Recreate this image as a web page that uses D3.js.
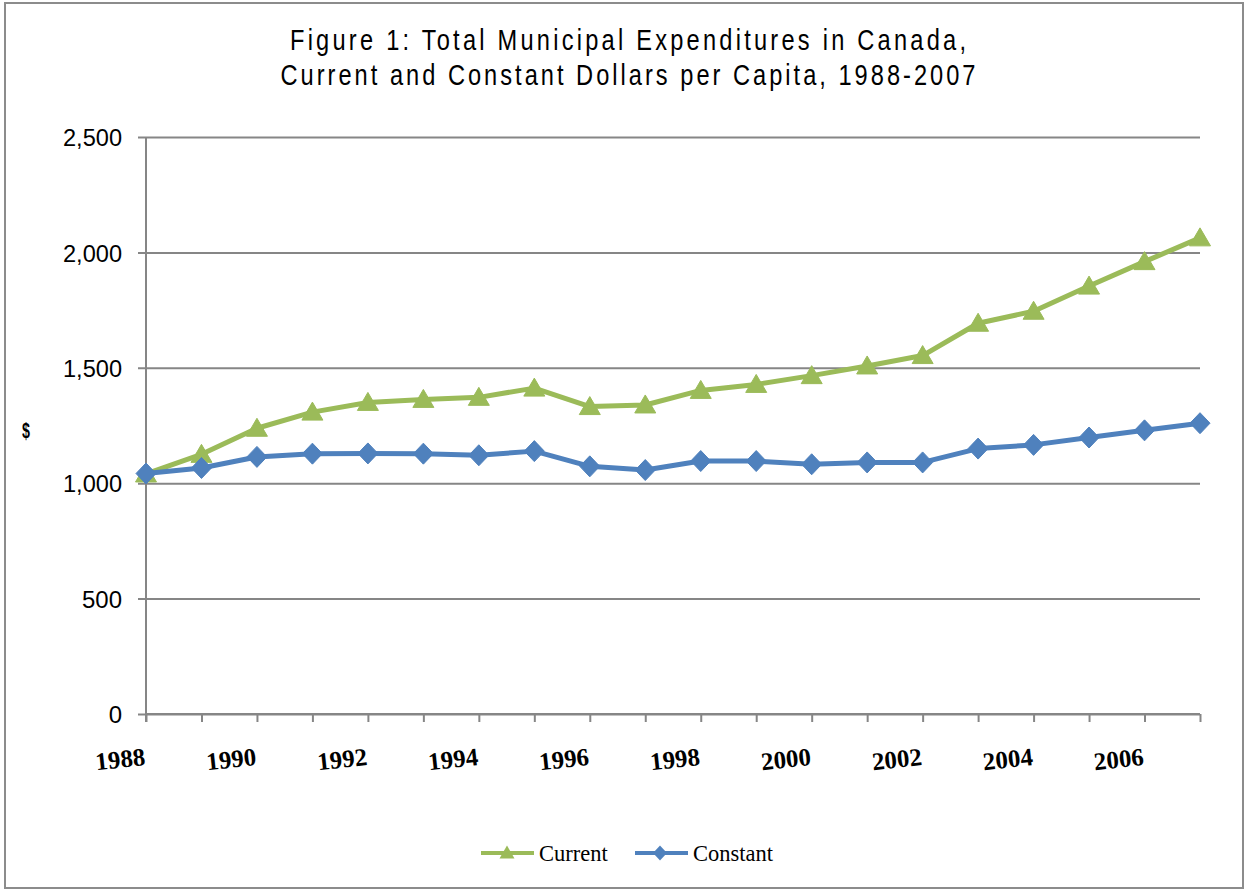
<!DOCTYPE html>
<html>
<head>
<meta charset="utf-8">
<script src="https://cdn.jsdelivr.net/npm/d3@7"></script>
<style>
  html, body { margin: 0; padding: 0; background: #fff; }
  svg { display: block; }
</style>
</head>
<body>
<svg id="chart" width="1248" height="890"></svg>
<script>
const years = d3.range(1988, 2008);
const currentValues = [1040,1125,1238,1308,1350,1363,1372,1412,1332,1339,1402,1428,1466,1508,1553,1693,1745,1854,1960,2063];
const constantValues = [1042,1066,1114,1128,1129,1128,1121,1139,1073,1057,1096,1096,1082,1090,1090,1150,1166,1198,1229,1260];
const yTicks = [0, 500, 1000, 1500, 2000, 2500];
const xLabelYears = [1988,1990,1992,1994,1996,1998,2000,2002,2004,2006];
const titleLines = ["Figure 1: Total Municipal Expenditures in Canada,", "Current and Constant Dollars per Capita, 1988-2007"];
const seriesNames = ["Current", "Constant"];

const svg = d3.select("#chart");
const sans = "'Liberation Sans', Arial, sans-serif";
const serif = "'Liberation Serif', 'Times New Roman', serif";
const green = "#9BBB59", blue = "#4F81BD", grid = "#868686";
const NARROW = 0.8;

svg.append("rect").attr("x", 5).attr("y", 3).attr("width", 1238).attr("height", 885)
  .attr("fill", "#fff").attr("stroke", "#8c8c8c").attr("stroke-width", 2);

const x = d3.scaleLinear().domain([1988, 2007]).range([146, 1200]);
const y = d3.scaleLinear().domain([0, 2500]).range([714, 137]);

// title (narrow glyphs with extra spacing)
const tg = svg.append("g").attr("transform", `scale(${NARROW},1)`);
titleLines.forEach((t, i) => {
  tg.append("text").attr("x", 628 / NARROW).attr("y", 50 + i * 35)
    .attr("text-anchor", "middle").attr("font-family", sans).attr("font-size", 29.5)
    .attr("fill", "#000").attr("textLength", (i === 0 ? 676 : 695) / NARROW)
    .attr("lengthAdjust", "spacing").text(t);
});

// gridlines + y axis
const yAxis = d3.axisLeft(y).tickValues(yTicks).tickSize(-(1200 - 146)).tickFormat(d3.format(","));
const gy = svg.append("g").attr("transform", "translate(146,0)").call(yAxis);
gy.select(".domain").remove();
gy.selectAll(".tick line").attr("stroke", grid).attr("stroke-width", 2).attr("x1", -8);
gy.selectAll(".tick text").attr("x", -24).attr("font-family", sans).attr("font-size", 24).attr("fill", "#000")
  .attr("dy", "0.36em")
  .attr("textLength", function(){ const n = this.textContent.length; return n === 5 ? 59 : (n === 3 ? 40 : null); })
  .attr("lengthAdjust", "spacingAndGlyphs");

// y axis line
svg.append("line").attr("x1", 146).attr("x2", 146).attr("y1", 137).attr("y2", 722)
  .attr("stroke", grid).attr("stroke-width", 2);

// x axis
const xAxis = d3.axisBottom(x).tickValues(years).tickSize(8).tickFormat("");
const gx = svg.append("g").attr("transform", "translate(0,714)").call(xAxis);
gx.select(".domain").attr("stroke", grid).attr("stroke-width", 2).attr("d", "M146,0H1200");
gx.selectAll(".tick line").attr("stroke", grid).attr("stroke-width", 2);

// x labels rotated
svg.append("g").selectAll("text").data(xLabelYears).join("text")
  .attr("transform", d => `translate(${x(d)},765) rotate(-6)`)
  .attr("text-anchor", "end").attr("font-family", serif).attr("font-weight", "bold")
  .attr("font-size", 25).attr("fill", "#000").text(d => d);

// $ label
svg.append("text").attr("transform", `translate(26,438) scale(0.65,1)`).attr("text-anchor", "middle")
  .attr("font-family", sans).attr("font-weight", "bold").attr("font-size", 22).text("$");

// lines
const line = d3.line().x((d, i) => x(years[i])).y(d => y(d));
svg.append("path").datum(currentValues).attr("d", line).attr("fill", "none")
  .attr("stroke", green).attr("stroke-width", 5).attr("stroke-linejoin", "round");
svg.append("path").datum(constantValues).attr("d", line).attr("fill", "none")
  .attr("stroke", blue).attr("stroke-width", 5).attr("stroke-linejoin", "round");

function tri(cx, cy, w, h) {
  return `M${cx},${cy - h / 2}L${cx + w / 2},${cy + h / 2}L${cx - w / 2},${cy + h / 2}Z`;
}
function dia(cx, cy, w, h) {
  return `M${cx},${cy - h / 2}L${cx + w / 2},${cy}L${cx},${cy + h / 2}L${cx - w / 2},${cy}Z`;
}

svg.append("g").selectAll("path").data(currentValues).join("path")
  .attr("d", (d, i) => tri(x(years[i]), y(d) - 1, 21, 18)).attr("fill", green).attr("stroke", green).attr("stroke-width", 1);
svg.append("g").selectAll("path").data(constantValues).join("path")
  .attr("d", (d, i) => dia(x(years[i]), y(d), 20, 21)).attr("fill", blue).attr("stroke", blue).attr("stroke-width", 1);

// legend
const lg = svg.append("g");
lg.append("line").attr("x1", 481).attr("x2", 534).attr("y1", 853).attr("y2", 853).attr("stroke", green).attr("stroke-width", 4);
lg.append("path").attr("d", tri(507, 852, 15, 13)).attr("fill", green);
lg.append("text").attr("x", 539).attr("y", 861).attr("font-family", serif).attr("font-size", 22.5).text(seriesNames[0]);
lg.append("line").attr("x1", 635).attr("x2", 688).attr("y1", 853).attr("y2", 853).attr("stroke", blue).attr("stroke-width", 4);
lg.append("path").attr("d", dia(660, 853, 14, 15)).attr("fill", blue);
lg.append("text").attr("x", 693).attr("y", 861).attr("font-family", serif).attr("font-size", 22.5).text(seriesNames[1]);
</script>
</body>
</html>
